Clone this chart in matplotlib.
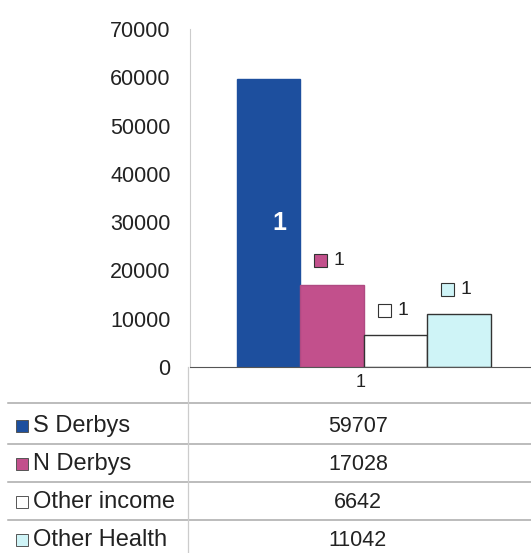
import matplotlib
matplotlib.use("Agg")
import matplotlib.pyplot as plt
from matplotlib.patches import Rectangle
from matplotlib.lines import Line2D

plt.rcParams['font.family'] = ['Liberation Sans', 'DejaVu Sans']

series = ["S Derbys", "N Derbys", "Other income", "Other Health"]
values = [59707, 17028, 6642, 11042]
colors = ["#1d4f9e", "#c2508c", "#ffffff", "#cff4f7"]
edges = ["#1d4f9e", "#b04a82", "#333333", "#333333"]
category = ["1"]
yticks = [0, 10000, 20000, 30000, 40000, 50000, 60000, 70000]

W, H = 531, 553
fig = plt.figure(figsize=(W/100, H/100), dpi=100)

def fx(px): return px / W
def fy(py): return 1 - py / H

ax = fig.add_axes([fx(190), fy(367), fx(531) - fx(190), fy(29) - fy(367)])
ax.set_ylim(0, 70000)
ax.set_xlim(-0.5, 0.5)
bw = 0.186
n = len(series)
for i, (s, v, c, e) in enumerate(zip(series, values, colors, edges)):
    x = 0.01 + (i - (n - 1) / 2) * bw
    ax.bar(x, v, width=bw, color=c, edgecolor=e, linewidth=1.0)
    if i == 0:
        ax.text(x + 0.03, v * 0.5, "1", color="white", fontsize=18, fontweight="bold",
                ha="center", va="center")
    else:
        ly = v + 5000
        ax.text(x + 0.02, ly, "1", fontsize=14, ha="center", va="center", color="#222222")
        kx0 = x - 0.052
        ax.add_patch(Rectangle((kx0, ly - 1300), 0.038, 2700, facecolor=c,
                               edgecolor="#333333", linewidth=0.8, clip_on=False))

ax.set_yticks(yticks)
ax.set_yticklabels([str(t) for t in yticks], fontsize=15.5, color="#222222")
ax.set_xticks([0])
ax.set_xticklabels(category, fontsize=13, color="#222222")
ax.tick_params(axis="y", length=0, pad=14)
ax.tick_params(axis="x", length=0, pad=5)
for sp in ["top", "right"]:
    ax.spines[sp].set_visible(False)
ax.spines["left"].set_color("#cccccc")
ax.spines["bottom"].set_color("#555555")

# data table
row_lines = [403, 444, 482, 520]
for yl in row_lines:
    fig.add_artist(Line2D([fx(8), 1], [fy(yl), fy(yl)], color="#aaaaaa", linewidth=1.1))
fig.add_artist(Line2D([fx(188), fx(188)], [fy(367), 0], color="#cccccc", linewidth=0.9))
row_centers = [426, 464, 502, 540]
for s, v, c, yc in zip(series, values, colors, row_centers):
    fig.add_artist(Rectangle((fx(16), fy(yc + 6)), fx(12), fy(yc - 6) - fy(yc + 6),
                             facecolor=c, edgecolor="#555555", linewidth=0.7))
    fig.text(fx(33), fy(yc), s, fontsize=17, va="center", ha="left", color="#222222")
    fig.text(fx(358), fy(yc), str(v), fontsize=15.5, va="center", ha="center", color="#222222")

fig.savefig("out.png", dpi=100)
